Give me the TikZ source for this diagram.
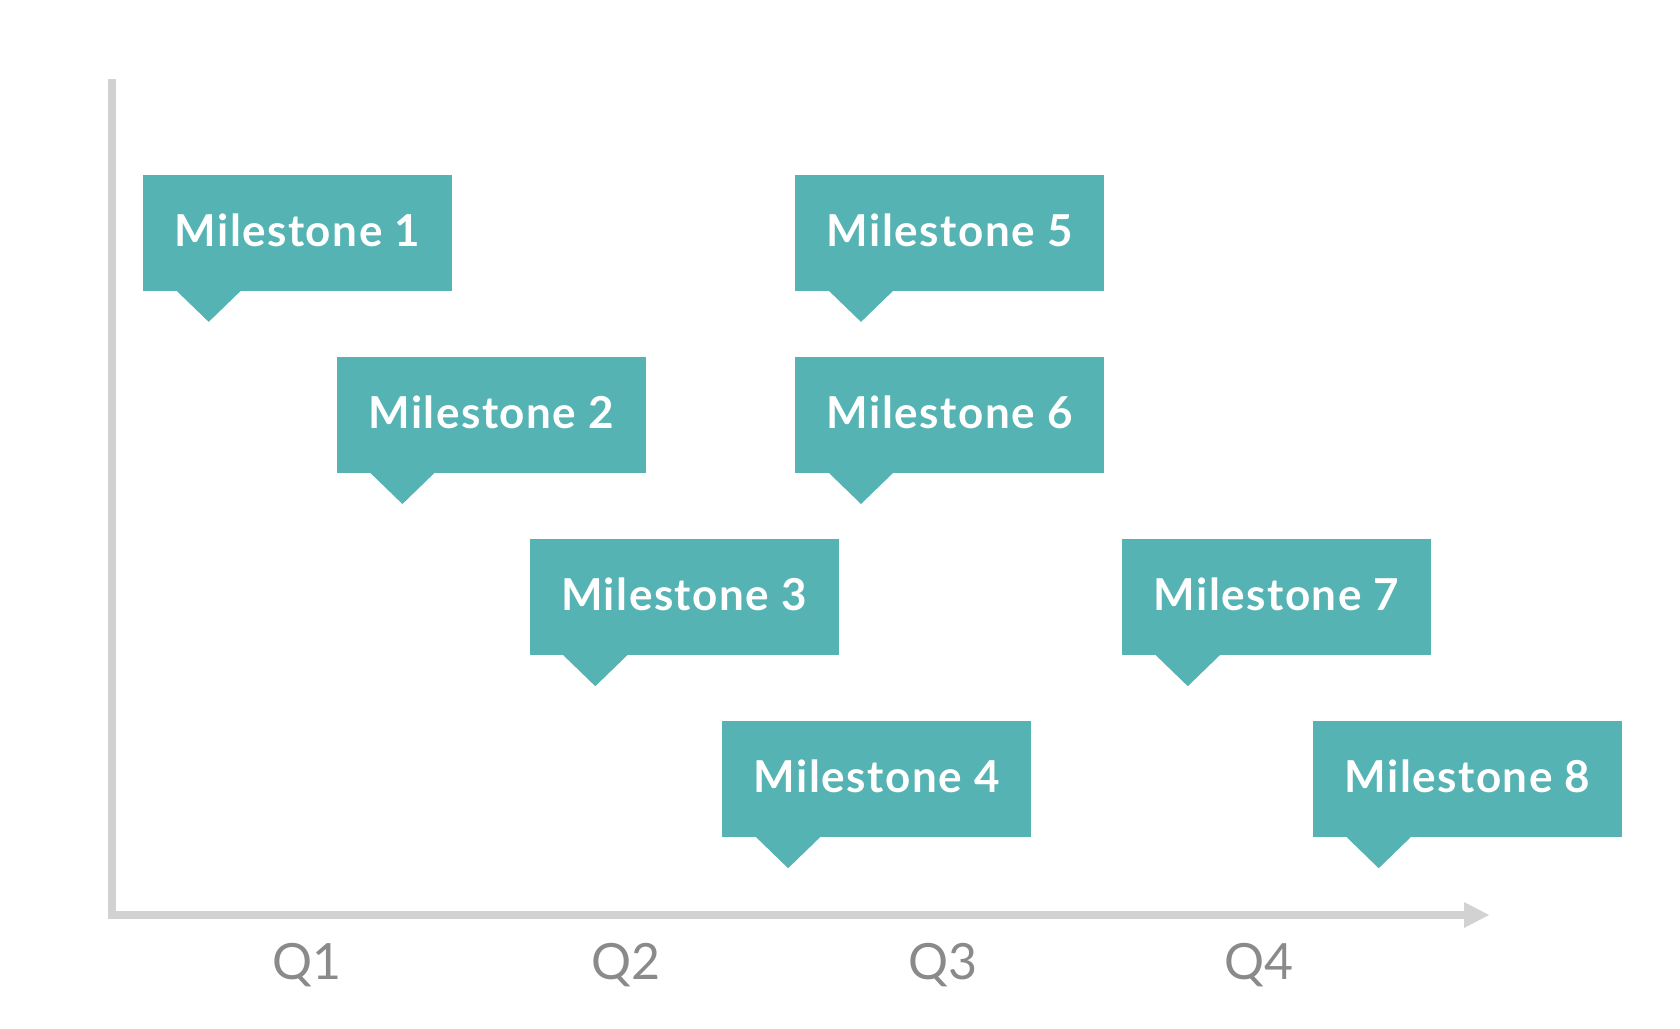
\documentclass[tikz,border=0pt]{standalone}
\usepackage{fontspec}
\setmainfont{Lato}
\newfontfamily\msfont[LetterSpace=3.4]{Lato Bold}
\definecolor{teal1}{HTML}{56B3B3}
\definecolor{axisgray}{HTML}{D2D2D2}
\definecolor{qgray}{HTML}{8A8A8A}
\tikzset{
  msbox/.style={fill=teal1, anchor=north west, minimum width=309pt, minimum height=116pt,
    inner sep=0pt, text depth=6pt, text=white, font=\fontsize{44}{44}\msfont},
  qlabel/.style={text=qgray, font=\fontsize{50}{50}\selectfont, inner sep=0pt},
}
\newcommand{\mspointer}[1]{\fill[teal1] (#1.south west) ++(34pt,0) -- ++(32pt,-31pt) -- ++(32pt,31pt) -- cycle;}
\begin{document}
\begin{tikzpicture}[x=1pt,y=-1pt]
\useasboundingbox (0,0) rectangle (1680,1028);
\coordinate (ytop) at (111.7,79);
\coordinate (orig) at (111.7,915);
\coordinate (xend) at (1466,915);
\coordinate (xtip) at (1489,915);
\draw[axisgray, line width=8pt] (ytop) -- (orig) -- (xend);
\fill[axisgray] (1464,902) -- (xtip) -- (1464,928) -- cycle;

\node[msbox] (m1) at (142.7,174.5) {Milestone 1};
\node[msbox] (m2) at (336.4,356.6) {Milestone 2};
\node[msbox] (m3) at (529.3,538.8) {Milestone 3};
\node[msbox] (m4) at (722.1,720.8) {Milestone 4};
\node[msbox] (m5) at (795,174.5) {Milestone 5};
\node[msbox] (m6) at (795,356.6) {Milestone 6};
\node[msbox] (m7) at (1121.8,538.8) {Milestone 7};
\node[msbox] (m8) at (1312.7,720.8) {Milestone 8};
\mspointer{m1}\mspointer{m2}\mspointer{m3}\mspointer{m4}
\mspointer{m5}\mspointer{m6}\mspointer{m7}\mspointer{m8}

\node[qlabel] (q1) at (307,965) {Q1};
\node[qlabel] (q2) at (626,965) {Q2};
\node[qlabel] (q3) at (943,965) {Q3};
\node[qlabel] (q4) at (1259,965) {Q4};
\end{tikzpicture}
\end{document}
